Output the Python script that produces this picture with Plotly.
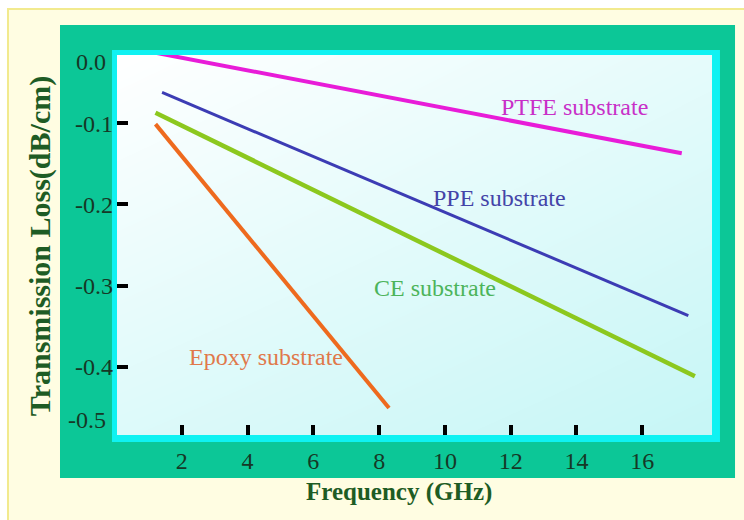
import plotly.graph_objects as go

# ---- data ----
series_names = ["PTFE substrate", "PPE substrate", "CE substrate", "Epoxy substrate"]
ptfe_x = [1.2, 17.2]
ptfe_y = [-0.013, -0.137]
ppe_x = [1.4, 17.4]
ppe_y = [-0.062, -0.337]
ce_x = [1.2, 17.6]
ce_y = [-0.087, -0.412]
epoxy_x = [1.2, 8.3]
epoxy_y = [-0.101, -0.451]

x_tick_vals = [2, 4, 6, 8, 10, 12, 14, 16]
x_tick_text = ["2", "4", "6", "8", "10", "12", "14", "16"]
y_tick_vals = [-0.1, -0.2, -0.3, -0.4]
y_tick_text = ["-0.1", "-0.2", "-0.3", "-0.4"]
# end labels printed without tick marks, slightly inside the frame
y_edge_vals = [-0.0244, -0.4659]
y_edge_text = ["0.0", "-0.5"]

# label positions (data coordinates)
label_x = [13.94, 11.67, 9.70, 4.56]
label_y = [-0.080, -0.192, -0.303, -0.388]

x_range = [0.03, 18.12]
y_range = [-0.48434, -0.01578]

line_colors = ["#E81CD8", "#3C3CB4", "#8CC81E", "#EE6A1E"]
line_widths = [4, 3, 4.5, 4]
label_colors = ["#C830C8", "#4444A8", "#4CB45A", "#E0784A"]

SERIF = "Liberation Serif, Times New Roman, serif"
TICK_COLOR = "#163826"

fig = go.Figure()

# background gradient inside the plot area
fig.add_trace(go.Heatmap(
    x=x_range, y=y_range,
    z=[[0.6, 1.0], [0.0, 0.45]],
    colorscale=[[0, "#FFFFFF"], [1, "#C6F6F6"]],
    zsmooth="best", showscale=False, hoverinfo="skip",
))

xs = [ptfe_x, ppe_x, ce_x, epoxy_x]
ys = [ptfe_y, ppe_y, ce_y, epoxy_y]
for name, x, y, c, w in zip(series_names, xs, ys, line_colors, line_widths):
    fig.add_trace(go.Scatter(x=x, y=y, mode="lines", name=name,
                             line=dict(color=c, width=w), showlegend=False))

shapes = [
    # outer light yellow panel
    dict(type="rect", xref="paper", yref="paper", x0=-0.1832, x1=1.07, y0=-0.26, y1=1.1211,
         fillcolor="#FFFDE2", line=dict(color="#F2EA8E", width=2), layer="below"),
    # green frame
    dict(type="rect", xref="paper", yref="paper", x0=-0.0958, x1=1.0387, y0=-0.1132, y1=1.0789,
         fillcolor="#0CC797", line=dict(width=0), layer="below"),
    # cyan border
    dict(type="rect", xref="paper", yref="paper", x0=-0.0084, x1=1.0134, y0=-0.0184, y1=1.0132,
         fillcolor="#0FF2F2", line=dict(width=0), layer="below"),
]

annotations = []
for t, x, y, c in zip(series_names, label_x, label_y, label_colors):
    annotations.append(dict(text=t, x=x, y=y, xref="x", yref="y", showarrow=False,
                            xanchor="center", yanchor="middle",
                            font=dict(family=SERIF, size=24, color=c)))
for t, v in zip(y_edge_text, y_edge_vals):
    annotations.append(dict(text=t, x=-0.0151, y=v, xref="paper", yref="y",
                            xanchor="right", yanchor="middle",
                            showarrow=False, font=dict(family=SERIF, size=24, color=TICK_COLOR)))
annotations.append(dict(text="<b>Transmission Loss(dB/cm)</b>", x=-0.1294, y=0.497,
                        xref="paper", yref="paper", textangle=-90, showarrow=False,
                        xanchor="center", yanchor="middle",
                        font=dict(family=SERIF, size=30, color="#1E5C24")))
annotations.append(dict(text="<b>Frequency (GHz)</b>", x=0.474, y=-0.15,
                        xref="paper", yref="paper", showarrow=False,
                        xanchor="center", yanchor="middle",
                        font=dict(family=SERIF, size=25, color="#1E5C24")))

fig.update_layout(
    width=744, height=520,
    margin=dict(l=117, r=32, t=55, b=85),
    paper_bgcolor="#FFFFFF",
    plot_bgcolor="rgba(0,0,0,0)",
    shapes=shapes,
    annotations=annotations,
    showlegend=False,
)
fig.update_xaxes(range=x_range, tickvals=x_tick_vals, ticktext=x_tick_text,
                 ticks="inside", ticklen=10, tickwidth=4, tickcolor="#000000",
                 showgrid=False, zeroline=False, showline=False,
                 ticklabelstandoff=9,
                 tickfont=dict(family=SERIF, size=24, color=TICK_COLOR))
fig.update_yaxes(range=y_range, tickvals=y_tick_vals, ticktext=y_tick_text,
                 ticks="inside", ticklen=11, tickwidth=4, tickcolor="#000000",
                 showgrid=False, zeroline=False, showline=False,
                 ticklabelstandoff=3,
                 tickfont=dict(family=SERIF, size=24, color=TICK_COLOR))

fig.write_html("out.html")
